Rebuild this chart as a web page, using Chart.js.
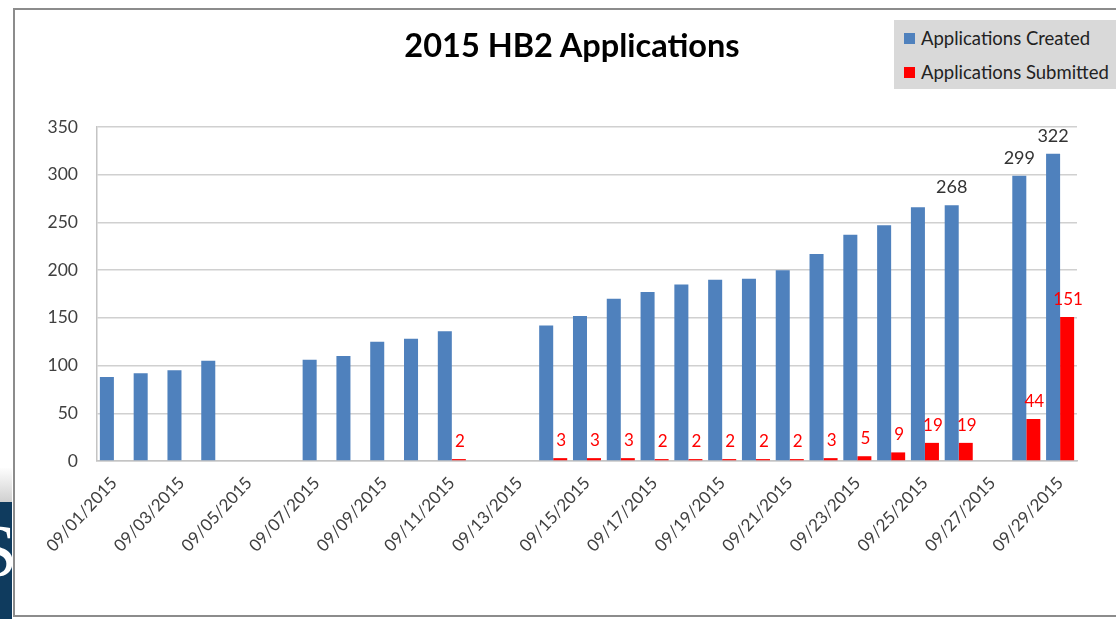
<!DOCTYPE html>
<html>
<head>
<meta charset="utf-8">
<title>2015 HB2 Applications</title>
<script src="https://cdn.jsdelivr.net/npm/chart.js@4.4.0/dist/chart.umd.min.js"></script>
<style>
    html, body { margin: 0; padding: 0; background: #fff; }
    body { width: 1116px; height: 619px; position: relative; overflow: hidden; font-family: Lato, "Open Sans", sans-serif; }
    #moldura { position: absolute; left: 13px; top: 8px; width: 1130px; height: 609px; border: 2px solid #8c8c8c; box-sizing: border-box; }
    #sombra { position: absolute; left: 0; top: 468px; width: 12px; height: 34px; background: linear-gradient(#fdfdfd, #d0d0d0); }
    #faixa { position: absolute; left: 0; top: 502px; width: 12px; height: 117px; background: #0f3b5e; overflow: hidden; }
    #faixa span { position: absolute; left: -24px; top: 12px; font: 74px "Liberation Serif", "DejaVu Serif", serif; color: #fff; line-height: 1; }
    #grafico { position: absolute; left: 0; top: 0; }
    #titulo { position: absolute; left: 322px; top: 25px; width: 500px; text-align: center; font-size: 32.5px; font-weight: bold; line-height: 39px; color: #000; }
    #legenda { position: absolute; left: 894px; top: 20px; width: 222px; height: 69px; background: #d9d9d9; font-size: 18.5px; color: #222; }
    #legenda div { position: absolute; left: 10px; white-space: nowrap; line-height: 20px; }
    #legenda i { display: inline-block; width: 11px; height: 11px; margin-right: 6px; vertical-align: 1px; }
</style>
</head>
<body>
<div id="moldura"></div>
<div id="sombra"></div>
<div id="faixa"><span>S</span></div>
<canvas id="grafico" width="1116" height="619"></canvas>
<div id="titulo">2015 HB2 Applications</div>
<div id="legenda">
    <div style="top: 8px;"><i style="background:#4F81BD"></i>Applications Created</div>
    <div style="top: 42px;"><i style="background:#FF0000"></i>Applications Submitted</div>
</div>
<script>
// dados
const datas = [
    '09/01/2015', '09/02/2015', '09/03/2015', '09/04/2015', '09/05/2015', '09/06/2015', '09/07/2015',
    '09/08/2015', '09/09/2015', '09/10/2015', '09/11/2015', '09/12/2015', '09/13/2015', '09/14/2015',
    '09/15/2015', '09/16/2015', '09/17/2015', '09/18/2015', '09/19/2015', '09/20/2015', '09/21/2015',
    '09/22/2015', '09/23/2015', '09/24/2015', '09/25/2015', '09/26/2015', '09/27/2015', '09/28/2015',
    '09/29/2015'
];
const aplicacoesCriadas = [88, 92, 95, 105, null, null, 106, 110, 125, 128, 136, null, null, 142,
    152, 170, 177, 185, 190, 191, 200, 217, 237, 247, 266, 268, null, 299, 322];
const aplicacoesSubmetidas = [null, null, null, null, null, null, null, null, null, null, 2, null, null, 3,
    3, 3, 2, 2, 2, 2, 2, 3, 5, 9, 19, 19, null, 44, 151];
// só estas datas mostram o valor da série azul
const datasComRotulo = ['09/26/2015', '09/28/2015', '09/29/2015'];

const fonte = 'Lato, "Open Sans", sans-serif';

/**
 * Escreve o valor em cima de cada barra
 */
const rotulosPlugin = {
    id: 'rotulos',
    afterDatasetsDraw(chart) {
        const ctx = chart.ctx;
        ctx.save();
        ctx.textAlign = 'center';
        ctx.textBaseline = 'alphabetic';
        chart.data.datasets.forEach((ds, i) => {
            chart.getDatasetMeta(i).data.forEach((barra, j) => {
                const valor = ds.data[j];
                if (valor === null) return;
                if (i === 0 && !datasComRotulo.includes(datas[j])) return;
                ctx.fillStyle = i === 0 ? '#333333' : '#FF0000';
                ctx.font = (i === 0 ? '18px ' : '17px ') + fonte;
                ctx.fillText(valor, barra.x + (i === 0 ? 0 : 1), barra.y - 12);
            });
        });
        ctx.restore();
    }
};

const ctx = document.getElementById('grafico').getContext('2d');

new Chart(ctx, {
    type: 'bar',
    data: {
        labels: datas,
        datasets: [{
            label: 'Applications Created',
            data: aplicacoesCriadas,
            backgroundColor: '#4F81BD',
            categoryPercentage: 0.83,
            barPercentage: 1
        }, {
            label: 'Applications Submitted',
            data: aplicacoesSubmetidas,
            backgroundColor: '#FF0000',
            categoryPercentage: 0.83,
            barPercentage: 1
        }]
    },
    options: {
        responsive: false,
        animation: false,
        layout: { padding: { left: 0, right: 39, top: 127, bottom: 0 } },
        plugins: {
            legend: { display: false },
            tooltip: { enabled: false },
            title: { display: false }
        },
        scales: {
            x: {
                grid: { display: true, drawOnChartArea: false, drawTicks: false },
                border: { display: true, color: '#c4c4c4', width: 1.5 },
                ticks: {
                    autoSkip: false,
                    minRotation: 47,
                    maxRotation: 47,
                    padding: 12,
                    color: '#404040',
                    font: { family: fonte, size: 17 },
                    callback: function (valor, i) {
                        return i % 2 === 0 ? this.getLabelForValue(valor) : '';
                    }
                },
                afterFit: (escala) => { escala.height = 158; }
            },
            y: {
                min: 0,
                max: 350,
                grid: { color: '#d0d0d0', lineWidth: 1.5, drawTicks: false },
                border: { display: true, color: '#c4c4c4', width: 1.5 },
                ticks: {
                    stepSize: 50,
                    padding: 19,
                    color: '#404040',
                    font: { family: fonte, size: 17.5 }
                },
                afterFit: (escala) => { escala.width = 97; }
            }
        }
    },
    plugins: [rotulosPlugin]
});
</script>
</body>
</html>
